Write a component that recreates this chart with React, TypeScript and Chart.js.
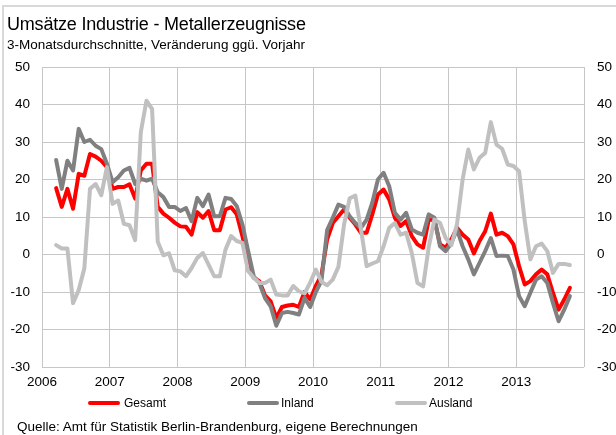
import React, { useEffect, useRef } from 'react';
import { Chart, registerables } from 'chart.js';

Chart.register(...registerables);

// Monthly 3-month averages, % change vs. previous year, starting March 2006
const START_YEAR = 2006;
const START_MONTH = 3;

const gesamt = [
  17.7, 12.7, 17.5, 12.2, 21.5, 21, 26.8, 26.1, 25, 23.3,
  17.5, 18, 18, 18.7, 14.9, 22.4, 24.2, 24.2, 12.7, 10.9, 9.8, 8.5,
  7.5, 7.4, 5.3, 11.3, 9.8, 11.6, 6.5, 6.5, 12, 12.6, 10.7, 4.9,
  -2.2, -6.2, -7.1, -10.9, -12.5, -16.9, -14, -13.6, -13.4, -14, -10, -12,
  -8.4, -5.5, 4, 8.4, 10.2, 12, 9.8, 8, 5.8, 5.8, 10.7, 16,
  17.3, 14.7, 9.8, 7.6, 8.9, 4.9, 2.7, 1.8, 9.3, 9.3, 2.7, 1.8,
  4, 7.1, 5.3, 4, 0.3, 3.6, 6.2, 10.9, 5.3, 5.8, 4.9, 2.7,
  -3.1, -8, -7.1, -5.3, -4, -5.3, -10.2, -14.7, -12, -8.9,
];

const inland = [
  25.2, 17.5, 25, 22.4, 33.5, 30, 30.6, 29, 28.1, 24.2,
  19.3, 20.6, 22.4, 23.1, 18.8, 20.2, 19.7, 20.2, 16.6, 15.3, 12.7, 12.7,
  11.6, 12.4, 8.9, 15.1, 12.9, 16, 10.2, 10.2, 15.1, 14.8, 12.9, 8,
  1, -5.8, -7.6, -11.6, -13.8, -19, -15.6, -15.3, -15.6, -16, -11.6, -14,
  -10, -7, 6.5, 9.8, 13.3, 12.7, 10.2, 8.4, 7.1, 9.3, 13.8, 20,
  21.8, 18.2, 11.1, 9.3, 11.1, 6.7, 5.8, 5.3, 10.7, 9.8, 2.2, 0.9,
  3, 6.7, 2.2, -1.3, -5.3, -2.2, 0.9, 4.4, -0.4, -0.3, -0.4, -4,
  -11.1, -13.8, -10.2, -6.7, -5.8, -7.6, -12.9, -17.8, -14.7, -11.1,
];

const ausland = [
  2.5, 1.6, 1.6, -13, -9.5, -3.7, 17.5, 18.8, 15.8, 23.3,
  13.5, 14.4, 8.2, 7.8, 3.8, 32.6, 41, 38.8, 3.4, -0.2, 0.3, -4.2,
  -4.5, -5.8, -3.6, -0.9, 0.4, -2.7, -5.8, -5.8, 1.3, 4.9, 3.6, 3.1,
  -4.4, -6.2, -7.6, -7.6, -6.7, -10.7, -10.9, -10.9, -8.4, -9.8, -10.4, -7.5,
  -4, -7.3, -8.2, -6.7, -3.3, 8, 15, 15.7, 6.7, -3.1, -2.4, -1.8,
  2.2, 7.1, 8.4, 5.3, 5.8, 0.4, -7.6, -8.5, 2, 9.3, 8.4, 4.4,
  2.5, 8, 20, 28, 22.7, 25.8, 27.1, 35.3, 29.3, 28.2, 24, 23.6,
  22.2, 8.9, -1.3, 2.2, 2.9, 0.9, -4.9, -2.5, -2.5, -2.8,
];

const yearTicks = [2006, 2007, 2008, 2009, 2010, 2011, 2012, 2013, 2014];
const Y_MIN = -30;
const Y_MAX = 50;
const Y_STEP = 10;

const seriesNames = ['Gesamt', 'Inland', 'Ausland'];
const seriesColors = ['#ff0000', '#808080', '#c0c0c0'];

const FONT = '"Liberation Sans", Arial, sans-serif';

function toPoints(values: number[]) {
  return values.map((v, i) => ({ x: START_YEAR + (START_MONTH - 1 + i + 0.5) / 12, y: v }));
}

export default function App() {
  const ref = useRef<HTMLCanvasElement | null>(null);

  useEffect(() => {
    if (!ref.current) return;
    const tickFont = { family: FONT, size: 13.5 };
    const gridColor = '#c6c6c6';
    const series = [gesamt, inland, ausland];
    const chart = new Chart(ref.current, {
      type: 'line',
      data: {
        datasets: series.map((s, i) => ({
          label: seriesNames[i],
          data: toPoints(s),
          borderColor: seriesColors[i],
          backgroundColor: seriesColors[i],
          borderWidth: 4,
          pointRadius: 0,
          tension: 0,
          fill: false,
          borderJoinStyle: 'round' as const,
          borderCapStyle: 'round' as const,
          order: 2 - i,
        })),
      },
      options: {
        responsive: false,
        maintainAspectRatio: false,
        animation: false,
        layout: { padding: { top: 67, bottom: 43, left: 0, right: 0 } },
        plugins: {
          legend: { display: false },
          title: { display: false },
          tooltip: { enabled: false },
        },
        scales: {
          x: {
            type: 'linear',
            min: yearTicks[0],
            max: yearTicks[yearTicks.length - 1],
            afterBuildTicks: (s: any) => {
              s.ticks = yearTicks.map((v) => ({ value: v }));
            },
            ticks: {
              autoSkip: false,
              maxRotation: 0,
              font: tickFont,
              color: '#000',
              padding: 7,
              callback: (v: any) => (v === yearTicks[yearTicks.length - 1] ? '' : String(v)),
            },
            grid: { color: gridColor, lineWidth: 1, drawTicks: false },
            border: { display: false },
            afterFit: (s: any) => {
              s.height = 25;
            },
          },
          y: {
            position: 'left',
            min: Y_MIN,
            max: Y_MAX,
            ticks: { stepSize: Y_STEP, font: tickFont, color: '#000', padding: 12 },
            grid: { color: gridColor, lineWidth: 1, drawTicks: false },
            border: { display: false },
            afterFit: (s: any) => {
              s.width = 42;
            },
          },
          y2: {
            position: 'right',
            min: Y_MIN,
            max: Y_MAX,
            ticks: { stepSize: Y_STEP, font: tickFont, color: '#000', padding: 13 },
            grid: { display: false, drawTicks: false },
            border: { display: false },
            afterFit: (s: any) => {
              s.width = 32;
            },
          },
        },
      } as any,
    });
    return () => chart.destroy();
  }, []);

  const legendItems = [
    { line: 88, text: 124 },
    { line: 247, text: 281 },
    { line: 395, text: 429 },
  ];

  return (
    <div
      style={{
        position: 'fixed',
        left: 0,
        top: 0,
        width: 616,
        height: 435,
        background: '#fff',
        overflow: 'hidden',
        fontFamily: FONT,
        color: '#000',
      }}
    >
      <div
        style={{
          position: 'absolute',
          left: 2,
          top: 5,
          width: 700,
          height: 600,
          borderLeft: '2px solid #d9d9d9',
          borderTop: '2px solid #d9d9d9',
        }}
      />
      <canvas
        ref={ref}
        width={616}
        height={435}
        style={{ position: 'absolute', left: 0, top: 0, width: 616, height: 435 }}
      />
      <div
        style={{
          position: 'absolute',
          left: 7,
          top: 15,
          fontSize: 18,
          lineHeight: '18px',
          letterSpacing: -0.2,
          whiteSpace: 'nowrap',
        }}
      >
        Umsätze Industrie - Metallerzeugnisse
      </div>
      <div
        style={{
          position: 'absolute',
          left: 7,
          top: 38,
          fontSize: 13.5,
          lineHeight: '13.5px',
          whiteSpace: 'nowrap',
        }}
      >
        3-Monatsdurchschnitte, Veränderung ggü. Vorjahr
      </div>
      {legendItems.map((it, i) => (
        <React.Fragment key={seriesNames[i]}>
          <div
            style={{
              position: 'absolute',
              left: it.line,
              top: 401,
              width: 32,
              height: 4,
              borderRadius: 2,
              background: seriesColors[i],
            }}
          />
          <div
            style={{
              position: 'absolute',
              left: it.text,
              top: 396,
              fontSize: 12,
              lineHeight: '14px',
              whiteSpace: 'nowrap',
            }}
          >
            {seriesNames[i]}
          </div>
        </React.Fragment>
      ))}
      <div
        style={{
          position: 'absolute',
          left: 17,
          top: 420,
          fontSize: 13.5,
          lineHeight: '14px',
          whiteSpace: 'nowrap',
        }}
      >
        Quelle: Amt für Statistik Berlin-Brandenburg, eigene Berechnungen
      </div>
    </div>
  );
}
